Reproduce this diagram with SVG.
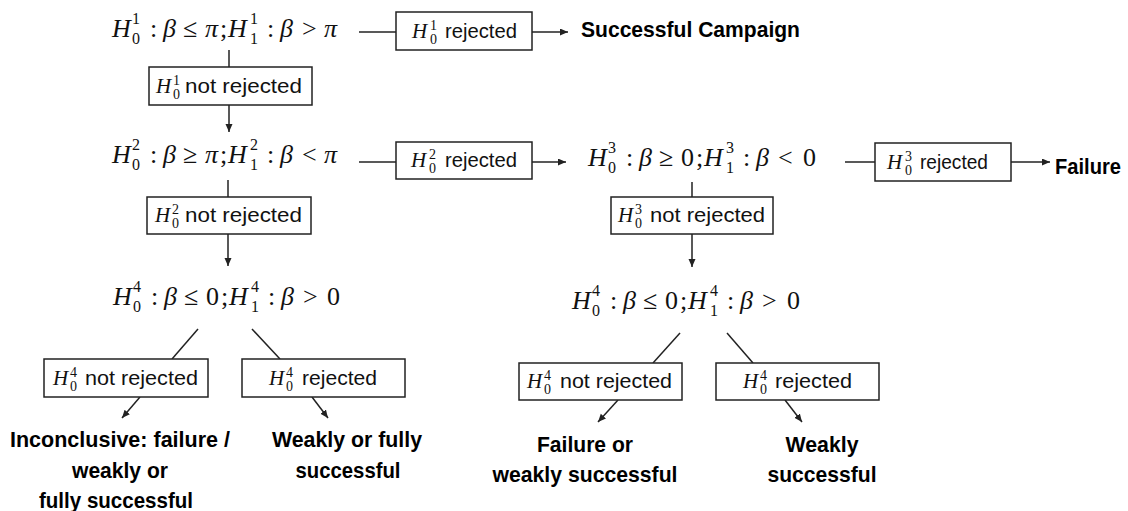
<svg xmlns="http://www.w3.org/2000/svg" width="1128" height="511" viewBox="0 0 1128 511">
<style>
.m{font-family:"Liberation Serif","Times New Roman",serif;font-size:26px;fill:#111}
.i{font-style:italic}
.s{font-size:16px;font-style:normal}
.b{font-family:"Liberation Sans",Arial,sans-serif;font-size:21px;fill:#111}
.bh{font-family:"Liberation Serif","Times New Roman",serif;font-style:italic;font-size:21px;fill:#111}
.bs{font-size:14px;font-style:normal}
.out{font-family:"Liberation Sans",Arial,sans-serif;font-weight:bold;font-size:22.5px;fill:#000}
rect{fill:#fff;stroke:#222;stroke-width:1.5}
.c line{stroke:#222;stroke-width:1.5}
.a{marker-end:url(#ah)}
</style>
<defs>
<marker id="ah" markerUnits="userSpaceOnUse" markerWidth="9" markerHeight="8" refX="8" refY="3.5" orient="auto">
<path d="M0,0 L8,3.5 L0,7 z" fill="#222"/>
</marker>
</defs>

<g class="c">
<line x1="359" y1="32" x2="396" y2="32"/>
<line class="a" x1="532" y1="32" x2="568" y2="32"/>
<line x1="229" y1="50" x2="229" y2="67"/>
<line class="a" x1="229" y1="105" x2="229" y2="132"/>
<line x1="359" y1="162" x2="396" y2="162"/>
<line class="a" x1="532" y1="162" x2="566" y2="162"/>
<line x1="228" y1="180" x2="228" y2="197"/>
<line class="a" x1="228" y1="234" x2="228" y2="266"/>
<line x1="845" y1="162" x2="875" y2="162"/>
<line class="a" x1="1011" y1="162" x2="1050" y2="162"/>
<line x1="692" y1="182" x2="692" y2="197"/>
<line class="a" x1="692" y1="234" x2="692" y2="267"/>
<line x1="198" y1="329" x2="172" y2="359"/>
<line x1="252" y1="329" x2="280" y2="359"/>
<line class="a" x1="140" y1="397" x2="122" y2="418"/>
<line class="a" x1="312" y1="397" x2="328" y2="418"/>
<line x1="680" y1="333" x2="653" y2="363"/>
<line x1="727" y1="333" x2="753" y2="363"/>
<line class="a" x1="618" y1="400" x2="598" y2="422"/>
<line class="a" x1="785" y1="400" x2="802" y2="422"/>
</g>

<g id="h1">
<text class="m"><tspan class="i" x="112" y="37">H</tspan><tspan class="s" x="132" y="24">1</tspan><tspan class="s" x="132" y="44">0</tspan><tspan x="150" y="37">:</tspan><tspan class="i" x="163" y="37">β</tspan><tspan x="183" y="37">≤</tspan><tspan class="i" x="205" y="37">π</tspan><tspan x="220" y="37">;</tspan><tspan class="i" x="228" y="37">H</tspan><tspan class="s" x="250" y="24">1</tspan><tspan class="s" x="250" y="44">1</tspan><tspan x="267" y="37">:</tspan><tspan class="i" x="280" y="37">β</tspan><tspan x="302" y="37">&gt;</tspan><tspan class="i" x="324" y="37">π</tspan></text>
</g>

<g id="r1">
<rect x="396" y="12" width="136" height="38"/>
<text class="bh"><tspan x="412" y="38">H</tspan><tspan class="bs" x="430" y="30">1</tspan><tspan class="bs" x="430" y="44">0</tspan></text>
<text class="b" x="445" y="38" textLength="72" lengthAdjust="spacingAndGlyphs">rejected</text>
</g>

<g id="success">
<text class="out" x="581" y="37" textLength="219" lengthAdjust="spacingAndGlyphs">Successful Campaign</text>
</g>

<g id="nr1">
<rect x="149" y="67" width="163" height="38"/>
<text class="bh"><tspan x="156" y="93">H</tspan><tspan class="bs" x="173" y="85">1</tspan><tspan class="bs" x="173" y="99">0</tspan></text>
<text class="b" x="185" y="93" textLength="117" lengthAdjust="spacingAndGlyphs">not rejected</text>
</g>

<g id="h2">
<text class="m"><tspan class="i" x="112" y="163">H</tspan><tspan class="s" x="132" y="150">2</tspan><tspan class="s" x="132" y="170">0</tspan><tspan x="150" y="163">:</tspan><tspan class="i" x="163" y="163">β</tspan><tspan x="183" y="163">≥</tspan><tspan class="i" x="205" y="163">π</tspan><tspan x="220" y="163">;</tspan><tspan class="i" x="228" y="163">H</tspan><tspan class="s" x="250" y="150">2</tspan><tspan class="s" x="250" y="170">1</tspan><tspan x="267" y="163">:</tspan><tspan class="i" x="280" y="163">β</tspan><tspan x="302" y="163">&lt;</tspan><tspan class="i" x="324" y="163">π</tspan></text>
</g>

<g id="r2">
<rect x="396" y="142" width="136" height="37"/>
<text class="bh"><tspan x="411" y="167">H</tspan><tspan class="bs" x="429" y="159">2</tspan><tspan class="bs" x="429" y="173">0</tspan></text>
<text class="b" x="445" y="167" textLength="72" lengthAdjust="spacingAndGlyphs">rejected</text>
</g>

<g id="nr2">
<rect x="147" y="197" width="164" height="37"/>
<text class="bh"><tspan x="155" y="222">H</tspan><tspan class="bs" x="172" y="214">2</tspan><tspan class="bs" x="172" y="228">0</tspan></text>
<text class="b" x="185" y="222" textLength="117" lengthAdjust="spacingAndGlyphs">not rejected</text>
</g>

<g id="h3">
<text class="m"><tspan class="i" x="588" y="166">H</tspan><tspan class="s" x="608" y="153">3</tspan><tspan class="s" x="608" y="173">0</tspan><tspan x="626" y="166">:</tspan><tspan class="i" x="639" y="166">β</tspan><tspan x="659" y="166">≥</tspan><tspan x="681" y="166">0</tspan><tspan x="696" y="166">;</tspan><tspan class="i" x="704" y="166">H</tspan><tspan class="s" x="726" y="153">3</tspan><tspan class="s" x="726" y="173">1</tspan><tspan x="743" y="166">:</tspan><tspan class="i" x="756" y="166">β</tspan><tspan x="778" y="166">&lt;</tspan><tspan x="803" y="166">0</tspan></text>
</g>

<g id="r3">
<rect x="875" y="143" width="136" height="38"/>
<text class="bh"><tspan x="887" y="169">H</tspan><tspan class="bs" x="905" y="161">3</tspan><tspan class="bs" x="905" y="175">0</tspan></text>
<text class="b" x="920" y="169" textLength="68" lengthAdjust="spacingAndGlyphs">rejected</text>
</g>

<g id="failure">
<text class="out" x="1055" y="174" textLength="66" lengthAdjust="spacingAndGlyphs">Failure</text>
</g>

<g id="nr3">
<rect x="611" y="197" width="162" height="37"/>
<text class="bh"><tspan x="618" y="222">H</tspan><tspan class="bs" x="635" y="214">3</tspan><tspan class="bs" x="635" y="228">0</tspan></text>
<text class="b" x="650" y="222" textLength="115" lengthAdjust="spacingAndGlyphs">not rejected</text>
</g>

<g id="h4a">
<text class="m"><tspan class="i" x="113" y="305">H</tspan><tspan class="s" x="133" y="292">4</tspan><tspan class="s" x="133" y="312">0</tspan><tspan x="151" y="305">:</tspan><tspan class="i" x="164" y="305">β</tspan><tspan x="184" y="305">≤</tspan><tspan x="206" y="305">0</tspan><tspan x="221" y="305">;</tspan><tspan class="i" x="229" y="305">H</tspan><tspan class="s" x="251" y="292">4</tspan><tspan class="s" x="251" y="312">1</tspan><tspan x="268" y="305">:</tspan><tspan class="i" x="281" y="305">β</tspan><tspan x="303" y="305">&gt;</tspan><tspan x="327" y="305">0</tspan></text>
</g>

<g id="nr4a">
<rect x="44" y="359" width="164" height="38"/>
<text class="bh"><tspan x="53" y="385">H</tspan><tspan class="bs" x="70" y="377">4</tspan><tspan class="bs" x="70" y="391">0</tspan></text>
<text class="b" x="85" y="385" textLength="113" lengthAdjust="spacingAndGlyphs">not rejected</text>
</g>

<g id="r4a">
<rect x="242" y="359" width="163" height="38"/>
<text class="bh"><tspan x="269" y="385">H</tspan><tspan class="bs" x="286" y="377">4</tspan><tspan class="bs" x="286" y="391">0</tspan></text>
<text class="b" x="302" y="385" textLength="75" lengthAdjust="spacingAndGlyphs">rejected</text>
</g>

<g id="inconclusive">
<text class="out" text-anchor="middle"><tspan x="120" y="447" textLength="220" lengthAdjust="spacingAndGlyphs">Inconclusive: failure /</tspan><tspan x="120" y="478" textLength="96" lengthAdjust="spacingAndGlyphs">weakly or</tspan><tspan x="116" y="508" textLength="154" lengthAdjust="spacingAndGlyphs">fully successful</tspan></text>
</g>

<g id="wfs">
<text class="out" text-anchor="middle"><tspan x="347" y="447" textLength="150" lengthAdjust="spacingAndGlyphs">Weakly or fully</tspan><tspan x="348" y="478" textLength="105" lengthAdjust="spacingAndGlyphs">successful</tspan></text>
</g>

<g id="h4b">
<text class="m"><tspan class="i" x="572" y="309">H</tspan><tspan class="s" x="592" y="296">4</tspan><tspan class="s" x="592" y="316">0</tspan><tspan x="610" y="309">:</tspan><tspan class="i" x="623" y="309">β</tspan><tspan x="643" y="309">≤</tspan><tspan x="665" y="309">0</tspan><tspan x="680" y="309">;</tspan><tspan class="i" x="688" y="309">H</tspan><tspan class="s" x="710" y="296">4</tspan><tspan class="s" x="710" y="316">1</tspan><tspan x="727" y="309">:</tspan><tspan class="i" x="740" y="309">β</tspan><tspan x="762" y="309">&gt;</tspan><tspan x="787" y="309">0</tspan></text>
</g>

<g id="nr4b">
<rect x="519" y="363" width="163" height="37"/>
<text class="bh"><tspan x="527" y="388">H</tspan><tspan class="bs" x="544" y="380">4</tspan><tspan class="bs" x="544" y="394">0</tspan></text>
<text class="b" x="560" y="388" textLength="112" lengthAdjust="spacingAndGlyphs">not rejected</text>
</g>

<g id="r4b">
<rect x="716" y="363" width="163" height="37"/>
<text class="bh"><tspan x="743" y="388">H</tspan><tspan class="bs" x="760" y="380">4</tspan><tspan class="bs" x="760" y="394">0</tspan></text>
<text class="b" x="775" y="388" textLength="77" lengthAdjust="spacingAndGlyphs">rejected</text>
</g>

<g id="fws">
<text class="out" text-anchor="middle"><tspan x="585" y="452" textLength="96" lengthAdjust="spacingAndGlyphs">Failure or</tspan><tspan x="585" y="482" textLength="185" lengthAdjust="spacingAndGlyphs">weakly successful</tspan></text>
</g>

<g id="ws">
<text class="out" text-anchor="middle"><tspan x="822" y="452" textLength="73" lengthAdjust="spacingAndGlyphs">Weakly</tspan><tspan x="822" y="482" textLength="109" lengthAdjust="spacingAndGlyphs">successful</tspan></text>
</g>
</svg>
